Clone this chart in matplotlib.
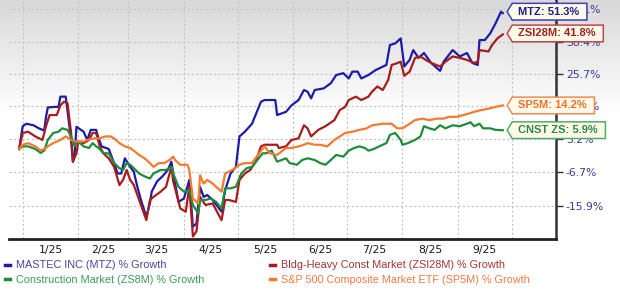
import numpy as np
import pandas as pd
import matplotlib
matplotlib.use("Agg")
import matplotlib.pyplot as plt
from matplotlib.path import Path

# ---- data (percent growth since 12/30/2024) ----
mtz_dates = ["12-30",
             "01-01", "01-03", "01-07", "01-10", "01-13", "01-14", "01-15", "01-19", "01-21", "01-22", "01-25", "01-28", "01-29", "01-30", "01-31",
             "02-04", "02-06", "02-08", "02-11", "02-12", "02-14", "02-18", "02-21", "02-23", "02-25", "02-27",
             "03-02", "03-04", "03-06", "03-08", "03-11", "03-13", "03-14", "03-17", "03-20", "03-23", "03-25", "03-26", "03-29",
             "04-01", "04-04", "04-06", "04-08", "04-10", "04-12", "04-14", "04-17", "04-22", "04-24", "04-27", "04-30",
             "05-02", "05-05", "05-09", "05-14", "05-16", "05-22", "05-23", "05-28", "05-31",
             "06-04", "06-07", "06-09", "06-11", "06-13", "06-18", "06-22", "06-25", "06-29",
             "07-02", "07-04", "07-07", "07-09", "07-13", "07-17", "07-23", "07-25", "07-28", "07-31",
             "08-02", "08-05", "08-07", "08-10", "08-13", "08-17", "08-22", "08-24", "08-29",
             "09-02", "09-06", "09-09", "09-12", "09-13", "09-16", "09-19", "09-22", "09-25", "09-26"]
mtz_vals = [0, 7.2, 8, 7.5, 6.5, 5.8, 10.3, 13.5, 13.7, 13.7, 17.3, 17.3, 2.8, -3.8, -1.3, 7,
            5.4, 2.8, 6, 6, 3.9, 0.8, 0, -4.2, -7.2, -7.2, -2.8,
            -5.3, -6.7, -10.9, -14.4, -18.7, -15.3, -12.2, -9.4, -8, -6.2, -3.8, -7.2, -14.9,
            -14, -9, -21.1, -20.3, -10.9, -13.6, -13.1, -14.4, -17.4, -11.8, -7.2, -5.3,
            3.9, 5.4, 8, 15.5, 16.1, 16.1, 10.9, 12, 14.2,
            16.1, 19.7, 19.1, 16.7, 19.7, 20.3, 22.2, 25.3, 26,
            24, 26.6, 26.6, 24, 25.3, 27.2, 29.2, 37.3, 38, 40.1,
            28.6, 31.2, 35.2, 32, 34, 30, 26.9, 30.5, 35.2,
            32.6, 34, 30, 29.2, 39.4, 39.4, 42.3, 46.7, 52, 51.3]

zsi_dates = ["12-30",
             "01-01", "01-04", "01-08", "01-12", "01-14", "01-16", "01-20", "01-22", "01-24", "01-26", "01-28", "01-29", "01-31",
             "02-01", "02-04", "02-07", "02-09", "02-11", "02-13", "02-15", "02-18", "02-21", "02-24", "02-26", "02-28",
             "03-02", "03-04", "03-07", "03-11", "03-13", "03-15", "03-19", "03-22", "03-25", "03-26", "03-30",
             "04-02", "04-04", "04-06", "04-08", "04-10", "04-13", "04-17", "04-22", "04-24", "04-26", "04-30",
             "05-02", "05-05", "05-08", "05-11", "05-14", "05-16", "05-23", "05-24", "05-28", "05-31",
             "06-04", "06-07", "06-09", "06-11", "06-15", "06-19", "06-24", "06-27", "06-30",
             "07-02", "07-06", "07-09", "07-13", "07-15", "07-18", "07-21", "07-24", "07-26", "07-29", "07-31",
             "08-02", "08-05", "08-08", "08-11", "08-14", "08-17", "08-22", "08-25", "08-29",
             "09-02", "09-06", "09-10", "09-12", "09-13", "09-18", "09-20", "09-23", "09-26"]
zsi_vals = [0, 5, 5.4, 3.9, 2.8, 7.2, 10.9, 10.9, 14.2, 15.5, 15, 5, -3.8, -1.3,
            2.3, 1.8, 2.8, 5, 5, 0.8, -1.3, -2.8, -5.3, -10.4, -9, -6.2,
            -9, -10.4, -14.4, -19.5, -14.4, -13.6, -12.2, -10.9, -5.3, -9.4, -16.6,
            -17.4, -10.9, -23.4, -22.2, -13.6, -15.7, -15.3, -19.5, -14.4, -14.4, -14.9,
            -9, -7.2, -6.2, -3.8, 0.8, 1.3, 1.3, 0.3, 0.8, 2.8,
            3.3, 7.5, 6.5, 3.9, 6, 7.2, 9.2, 12.6, 13.7,
            16.1, 17.3, 16.1, 17.3, 19.1, 21, 19.7, 23.4, 29.2, 29.9, 30.5,
            25, 26.6, 32, 32.6, 31.2, 30, 28.6, 30.5, 32.6,
            32, 31.2, 30, 30.5, 35.2, 34.6, 37.3, 40.1, 41.8]

cnst_dates = ["12-30",
              "01-01", "01-04", "01-08", "01-11", "01-13", "01-15", "01-18", "01-21", "01-23", "01-26", "01-28", "01-30", "01-31",
              "02-02", "02-04", "02-07", "02-09", "02-11", "02-13", "02-15", "02-18", "02-21", "02-24", "02-26", "02-28",
              "03-02", "03-04", "03-07", "03-10", "03-13", "03-15", "03-19", "03-22", "03-25", "03-26", "03-29",
              "04-01", "04-04", "04-06", "04-09", "04-10", "04-13", "04-16", "04-19", "04-22", "04-24", "04-27", "04-30",
              "05-03", "05-06", "05-09", "05-12", "05-15", "05-17", "05-20", "05-23", "05-28", "05-30",
              "06-03", "06-06", "06-09", "06-13", "06-16", "06-19", "06-22", "06-25", "06-29",
              "07-02", "07-05", "07-08", "07-11", "07-13", "07-16", "07-19", "07-23", "07-25", "07-28", "07-31",
              "08-01", "08-04", "08-08", "08-11", "08-13", "08-16", "08-19", "08-22", "08-25", "08-29",
              "09-02", "09-06", "09-08", "09-10", "09-13", "09-15", "09-19", "09-22", "09-26"]
cnst_vals = [0, 0.8, 0.8, 0, -1.2, -0.5, 2.8, 5, 5.4, 6.5, 6, 3.9, 0.8, 2.3,
             1.8, 0.8, 0.3, 1.8, 0.8, 0, -1.3, -1.3, -4.2, -5.7, -6.2, -4.2,
             -4.7, -5.7, -7.2, -8, -8.6, -7.2, -6.2, -6.2, -5.3, -7.2, -10.9,
             -12.2, -11.8, -15.7, -17.8, -14.4, -14.4, -14, -14.9, -16.6, -11.3, -11.3, -10.9,
             -7.2, -5.7, -5.3, -3.3, -1.3, -1.3, -0.5, -3.8, -2.8, -4.2,
             -4.7, -3.3, -2.8, -3.3, -4.2, -4.7, -3.3, -1.8, -2.3,
             -0.5, 0.3, 0.8, 0.3, -0.5, 0, 0.8, 1.8, 4.4, 5, 2.8,
             1.3, 1.8, 2.8, 3.9, 7.2, 6.5, 6, 7.5, 6.5, 7.5,
             7.2, 8, 8.5, 7.2, 8, 6.5, 6.5, 6, 5.9]

sp_dates = ["12-30",
            "01-01", "01-04", "01-08", "01-11", "01-13", "01-15", "01-18", "01-22", "01-25", "01-28", "01-31",
            "02-04", "02-06", "02-10", "02-13", "02-16", "02-19", "02-21", "02-24", "02-27",
            "03-02", "03-04", "03-07", "03-10", "03-13", "03-15", "03-18", "03-21", "03-24", "03-26", "03-27", "03-30",
            "04-03", "04-04", "04-06", "04-09", "04-10", "04-12", "04-14", "04-17", "04-22", "04-24", "04-28",
            "05-02", "05-05", "05-09", "05-13", "05-16", "05-19", "05-23", "05-28", "05-31",
            "06-04", "06-07", "06-09", "06-13", "06-16", "06-20", "06-24", "06-27", "06-30",
            "07-04", "07-08", "07-12", "07-15", "07-21", "07-26", "07-29",
            "08-01", "08-05", "08-08", "08-12", "08-16", "08-20", "08-24", "08-27", "08-31",
            "09-04", "09-07", "09-10", "09-14", "09-18", "09-22", "09-26"]
sp_vals = [0, 1.3, 1.8, 0.8, -0.5, 0, 0.8, 1.8, 2.8, 3.9, 2.8, 2.3,
           2.3, 2.8, 3.3, 3.3, 3.9, 3.9, 3.3, 1.8, 0.8,
           0.3, -0.5, -1.8, -2.8, -4.2, -5.3, -4.2, -4.2, -3.3, -2.3, -3.3, -4.7,
           -4.7, -6.2, -14, -15.3, -7.7, -10, -9, -10, -12.2, -7.2, -6.2,
           -4.7, -4.2, -4.2, -1.3, 0.8, -1.3, -1.8, 0.3, 0.3,
           0.8, 1.3, 1.8, 1.3, 1.3, 0.8, 2.8, 3.9, 5,
           5.4, 6, 6.5, 7.5, 8, 8, 6.5,
           6.5, 8, 9.2, 9.7, 9.2, 9.7, 9.7, 10.3, 10.3,
           10.9, 11.4, 12, 12.6, 13.1, 13.7, 14.2]

legend_labels = ["MASTEC INC (MTZ) % Growth", "Bldg-Heavy Const Market (ZSI28M) % Growth",
                 "Construction Market (ZS8M) % Growth", "S&P 500 Composite Market ETF (SP5M) % Growth"]
callout_labels = ["MTZ: 51.3%", "ZSI28M: 41.8%", "CNST ZS: 5.9%", "SP5M: 14.2%"]
ytick_vals = [-15.9, -6.7, 3.2, 13.9, 25.7, 38.4, 53.1]
month_labels = ["1/25", "2/25", "3/25", "4/25", "5/25", "6/25", "7/25", "8/25", "9/25"]

line_colors = ["#1c1ca8", "#a81c1c", "#1f8c3c", "#f47a30"]
text_colors = ["#1e1e8c", "#a02020", "#2a8a45", "#f07030"]
box_edges = ["#4040b8", "#c04848", "#55aa6a", "#f58a50"]
legend_colors = ["#46469e", "#a33434", "#3c9a5a", "#f07a42"]


def to_dates(days):
    return pd.to_datetime([("2024-" if d.startswith("12") else "2025-") + d for d in days])


def fwd(v):
    return np.log1p(np.asarray(v, dtype=float) / 100.0)


def inv(t):
    return np.expm1(np.asarray(t, dtype=float)) * 100.0


def tag_box(x0, y0, width, height, mutation_size):
    # rectangle with a pointed left side
    pl, pr, pv = 0.5 * mutation_size, 0.72 * mutation_size, 0.3 * mutation_size
    tip = 0.46 * mutation_size
    x0, x1 = x0 - pl, x0 + width + pr
    y0, y1 = y0 - pv, y0 + height + pv
    ym = (y0 + y1) / 2
    verts = [(x0 - tip, ym), (x0, y0), (x1, y0), (x1, y1), (x0, y1), (x0 - tip, ym)]
    return Path(verts, closed=True)


fig = plt.figure(figsize=(6.2, 2.92), dpi=100)

# grey-to-white background wash at the top
bg = fig.add_axes([0, 0, 1, 1], zorder=-10)
rows = np.linspace(0, 1, 292)
shade = 0.85 + 0.15 * np.clip(rows / (115 / 292), 0, 1)
wash = np.stack([shade, shade, shade], axis=-1)[:, None, :].repeat(2, axis=1)
bg.imshow(wash, aspect="auto", extent=[0, 1, 0, 1])
bg.axis("off")

ax = fig.add_axes([9 / 620, 53 / 292, 547 / 620, 239 / 292])
ax.set_facecolor("none")
ax.set_yscale("function", functions=(fwd, inv))

series = [(mtz_dates, mtz_vals), (zsi_dates, zsi_vals), (cnst_dates, cnst_vals), (sp_dates, sp_vals)]
lines = []
for (d, v), c in zip(series, line_colors):
    ln, = ax.plot(to_dates(d), v, color=c, lw=1.6, solid_joinstyle="round")
    lines.append(ln)

ax.set_ylim(-24.0, 57.5)
ax.set_xlim(pd.Timestamp("2024-12-24 08:00"), pd.Timestamp("2025-10-25 17:00"))

month_starts = pd.date_range("2025-01-01", "2025-10-01", freq="MS")
mids = month_starts[:-1] + (month_starts[1:] - month_starts[:-1]) / 2
ax.set_xticks(month_starts)
ax.set_xticklabels([""] * len(month_starts))
ax.set_xticks(mids, minor=True)
ax.set_xticklabels(month_labels, minor=True)
ax.tick_params(axis="x", which="both", length=0, pad=4, labelsize=7.8, labelcolor="#1a1a1a")

ax.yaxis.tick_right()
ax.set_yticks(ytick_vals)
ax.set_yticklabels([f"{v}%" for v in ytick_vals])
ax.yaxis.set_minor_locator(matplotlib.ticker.NullLocator())
ax.tick_params(axis="y", which="major", length=5, width=1, color="#333333",
               labelsize=7.8, labelcolor="#3a3a9a", pad=2)

ax.grid(True, which="major", color="#c4c4c4", linestyle=(0, (2, 2)), linewidth=0.8)
for s in ("left", "top"):
    ax.spines[s].set_visible(False)
ax.spines["bottom"].set_color("#222222")
ax.spines["bottom"].set_linewidth(2)
ax.spines["right"].set_color("#333333")
ax.spines["right"].set_linewidth(1.8)

# end-of-line callouts
nudges = [1.5, 1, 0, 0]
for (d, v), lab, tc, ec, dy in zip(series, callout_labels, text_colors, box_edges, nudges):
    ax.annotate(lab, xy=(to_dates(d)[-1], v[-1]), xytext=(15, dy), textcoords="offset pixels",
                ha="left", va="center", fontsize=8, fontweight="bold", color=tc,
                family="Liberation Sans", annotation_clip=False, zorder=5,
                bbox=dict(boxstyle=tag_box, fc="#fffbe8", ec=ec, lw=1.1))

order = [0, 2, 1, 3]
leg = fig.legend([lines[i] for i in order], [legend_labels[i] for i in order],
                 ncol=2, loc="upper left", bbox_to_anchor=(5 / 620, 1 - 260.5 / 292),
                 frameon=False, handlelength=0.5, handletextpad=0.55, columnspacing=6.0,
                 labelspacing=0.42, borderpad=0, borderaxespad=0,
                 prop={"family": "Liberation Sans", "size": 7.8})
for h in leg.legend_handles:
    h.set_linewidth(2.5)
for t, i in zip(leg.get_texts(), order):
    t.set_color(legend_colors[i])

fig.savefig("out.png", dpi=100)
